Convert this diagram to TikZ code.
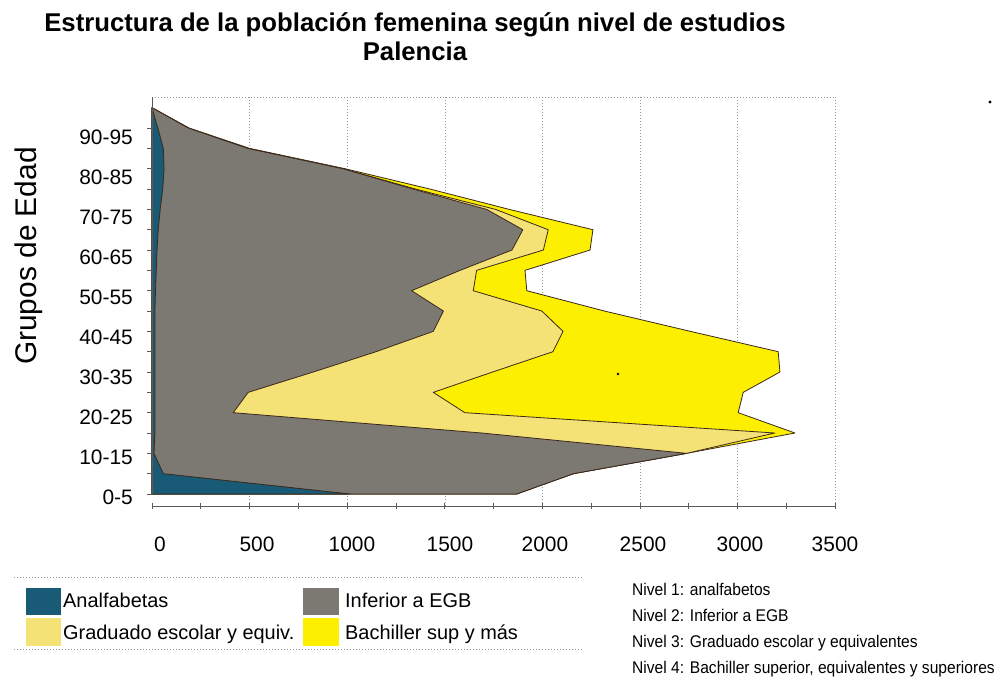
\documentclass[tikz,border=0pt]{standalone}
\usepackage{fontspec}
\setmainfont{Liberation Sans}
\newfontfamily\narrowfont[FakeStretch=0.92]{Liberation Sans}
\definecolor{cteal}{RGB}{25,90,118}
\definecolor{cgray}{RGB}{124,121,115}
\definecolor{clight}{RGB}{244,226,118}
\definecolor{cyel}{RGB}{252,240,0}
\definecolor{outl}{RGB}{60,40,25}
\definecolor{gridc}{RGB}{150,150,150}
\definecolor{axisc}{RGB}{90,90,90}
\begin{document}
\begin{tikzpicture}[x=1bp,y=-1bp,
  area/.style={draw=outl, line width=0.8bp, line join=round},
  ylab/.style={anchor=base east, font=\fontsize{21}{21}\selectfont, inner sep=0},
  xlab/.style={anchor=base, font=\fontsize{21}{21}\selectfont, inner sep=0},
  leg/.style={anchor=base west, font=\fontsize{20}{20}\selectfont, inner sep=0},
  note/.style={anchor=base west, font=\narrowfont\fontsize{17}{17}\selectfont, inner sep=0},
  gridline/.style={draw=gridc, line width=0.5bp, dash pattern=on 1bp off 2bp},
  axisline/.style={draw=axisc, line width=0.7bp},
]
\useasboundingbox (0,0) rectangle (1003,679);
\fill[white] (0,0) rectangle (1003,679);

% titles
\node[anchor=base, font=\bfseries\fontsize{25.8}{25.8}\selectfont, inner sep=0] (title) at (415,31.7) {Estructura de la población femenina según nivel de estudios};
\node[anchor=base, font=\bfseries\fontsize{25.8}{25.8}\selectfont, inner sep=0] (subtitle) at (415,61) {Palencia};

% plot
\begin{scope}[shift={(152,494)}, x=0.1952bp, y=20.33bp]
  \foreach \v in {500,1000,...,3500} \draw[gridline] (\v,-0.59) -- (\v,19.53);
  \draw[gridline] (0,19.53) -- (3500,19.53);
  % Nivel 4 (outer)
  \draw[area, fill=cyel] (0,0) \foreach \v [count=\i from 0] in {1868,2159,2739,3294,3003,3029,3217,3208,2758,2318,1920,1911,2244,2259,1830,1424,989,500,190,0} { -- (\v,\i) } -- cycle;
  % Nivel 3
  \draw[area, fill=clight] (0,0) \foreach \v [count=\i from 0] in {1868,2159,2739,3191,1603,1441,1745,2054,2106,1997,1646,1663,2005,2030,1760,1350,980,492,188,0} { -- (\v,\i) } -- cycle;
  % Nivel 2
  \draw[area, fill=cgray] (0,0) \foreach \v [count=\i from 0] in {1868,2159,2739,1690,416,493,826,1148,1441,1493,1330,1578,1844,1900,1714,1337,977,490,186,0} { -- (\v,\i) } -- cycle;
  % Nivel 1
  \draw[area, fill=cteal] (0,0) \foreach \v [count=\i from 0] in {1014,58,10,15,15,15,15,15,15,15,18,22,26,32,42,55,62,58,30,0} { -- (\v,\i) } -- cycle;
  % axes
  \draw[axisline] (0,0) -- (0,19.53);
  \foreach \i in {0,...,18} \draw[axisline] (0,\i) -- (-26,\i);
  \draw[axisline] (0,-0.59) -- (3500,-0.59);
  \foreach \v in {0,250,...,3500} \draw[axisline] (\v,-0.42) -- (\v,-0.76);
\end{scope}
\fill[black] (618,374) circle (1.3);
\fill[black] (990,102) circle (1.6);

% y labels
\foreach \t [count=\k from 0] in {0-5,10-15,20-25,30-35,40-45,50-55,60-65,70-75,80-85,90-95}
  \node[ylab] (yl\k) at (133,{504.8-40.07*\k}) {\t};
\node[rotate=90, anchor=base, font=\fontsize{30}{30}\selectfont, inner sep=0] (ytitle) at (36,256) {Grupos de Edad};

% x labels
\node[xlab] (x0) at (160,551) {0};
\node[xlab] (x1) at (257,551) {500};
\node[xlab] (x2) at (352,551) {1000};
\node[xlab] (x3) at (450,551) {1500};
\node[xlab] (x4) at (545,551) {2000};
\node[xlab] (x5) at (643,551) {2500};
\node[xlab] (x6) at (740,551) {3000};
\node[xlab] (x7) at (835,551) {3500};

% legend
\draw[gridline] (14,577) -- (584,577);
\draw[gridline] (14,649) -- (584,649);
\fill[cteal] (26,588) rectangle (61,615);
\fill[clight] (26,618) rectangle (61,646);
\fill[cgray] (303,588) rectangle (339,615);
\fill[cyel] (303,618) rectangle (339,646);
\node[leg] (l1) at (63,607) {Analfabetas};
\node[leg] (l2) at (345,607) {Inferior a EGB};
\node[leg] (l3) at (63,639) {Graduado escolar y equiv.};
\node[leg] (l4) at (345,639) {Bachiller sup y más};

% notes
\node[note] (n1) at (632,595) {Nivel 1: analfabetos};
\node[note] (n2) at (632,621) {Nivel 2: Inferior a EGB};
\node[note] (n3) at (632,647) {Nivel 3: Graduado escolar y equivalentes};
\node[note] (n4) at (632,673) {Nivel 4: Bachiller superior, equivalentes y superiores};
\end{tikzpicture}
\end{document}
